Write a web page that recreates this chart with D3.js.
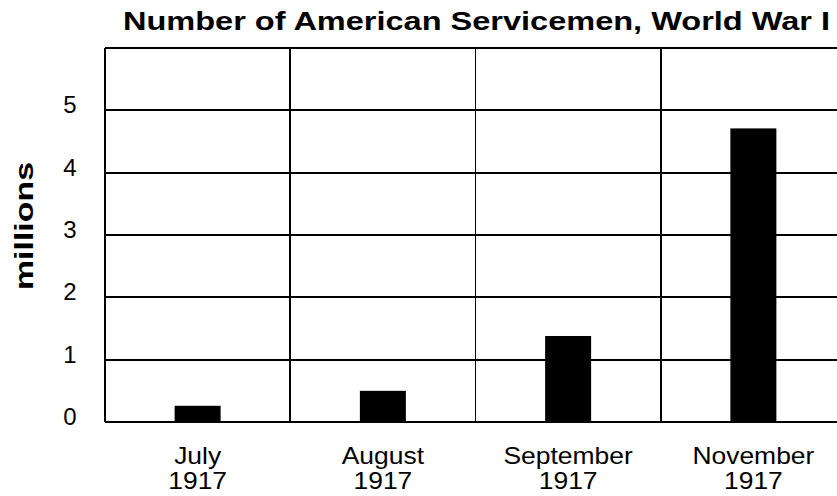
<!DOCTYPE html>
<html lang="en">
<head>
<meta charset="UTF-8">
<title>Number of American Servicemen, World War I</title>
<style>
  body { margin: 0; background: #fff; }
  svg { display: block; font-family: "Liberation Sans", Arial, sans-serif; }
  .grid line { stroke: #000; stroke-width: 1.8; shape-rendering: crispEdges; }
  .bar { fill: #000; }
  .tick-label { font-size: 24px; fill: #000; }
  .cat-label { font-size: 23px; fill: #000; }
</style>
<script src="https://cdnjs.cloudflare.com/ajax/libs/d3/7.8.5/d3.min.js"></script>
</head>
<body>
<div id="chart"></div>
<script>
// data
var months = ['July', 'August', 'September', 'November'];
var years = ['1917', '1917', '1917', '1917'];
var servicemen = [0.26, 0.50, 1.38, 4.71]; // millions
var yTicks = [0, 1, 2, 3, 4, 5];
var yMax = 6;

var W = 837, H = 496;
var plotLeft = 105, plotRight = 846, plotTop = 48, plotBottom = 422;

var svg = d3.select('#chart').append('svg')
  .attr('width', W)
  .attr('height', H);

var x = d3.scaleBand()
  .domain(months)
  .range([plotLeft, plotRight])
  .paddingInner(0)
  .paddingOuter(0);

var y = d3.scaleLinear()
  .domain([0, yMax])
  .range([plotBottom, plotTop]);

// grid: horizontal lines at each whole million, vertical lines at band edges
var grid = svg.append('g').attr('class', 'grid');
grid.selectAll('.h')
  .data(d3.range(0, yMax + 1))
  .enter().append('line')
  .attr('x1', plotLeft).attr('x2', plotRight)
  .attr('y1', function (d) { return y(d); })
  .attr('y2', function (d) { return y(d); });

var edges = months.map(function (m) { return x(m); }).concat([x(months[months.length - 1]) + x.bandwidth()]);
grid.selectAll('.v')
  .data(edges)
  .enter().append('line')
  .attr('x1', function (d) { return d; })
  .attr('x2', function (d) { return d; })
  .attr('y1', plotTop).attr('y2', plotBottom);

// bars
var barW = 46;
svg.selectAll('.bar')
  .data(servicemen)
  .enter().append('rect')
  .attr('class', 'bar')
  .attr('x', function (d, i) { return x(months[i]) + x.bandwidth() / 2 - barW / 2; })
  .attr('y', function (d) { return y(d); })
  .attr('width', barW)
  .attr('height', function (d) { return y(0) - y(d); });

// y tick labels
svg.selectAll('.tick-label')
  .data(yTicks)
  .enter().append('text')
  .attr('class', 'tick-label')
  .attr('x', 70)
  .attr('y', function (d) { return y(d) + 3; })
  .attr('text-anchor', 'middle')
  .text(function (d) { return d; });

// category labels (two lines)
var cats = svg.selectAll('.cat')
  .data(months)
  .enter().append('g')
  .attr('class', 'cat')
  .attr('transform', function (d) { return 'translate(' + (x(d) + x.bandwidth() / 2) + ',0) scale(1.15,1)'; });

cats.append('text')
  .attr('class', 'cat-label')
  .attr('y', 464)
  .attr('text-anchor', 'middle')
  .text(function (d) { return d; });

cats.append('text')
  .attr('class', 'cat-label')
  .attr('y', 489)
  .attr('text-anchor', 'middle')
  .text(function (d, i) { return years[i]; });

// axis title
svg.append('text')
  .attr('transform', 'translate(33,226) rotate(-90)')
  .attr('text-anchor', 'middle')
  .attr('font-size', 25)
  .attr('font-weight', 'bold')
  .attr('textLength', 128)
  .attr('lengthAdjust', 'spacingAndGlyphs')
  .text('millions');

// chart title
svg.append('text')
  .attr('x', 123)
  .attr('y', 30)
  .attr('font-size', 25)
  .attr('font-weight', 'bold')
  .attr('textLength', 707)
  .attr('lengthAdjust', 'spacingAndGlyphs')
  .text('Number of American Servicemen, World War I');
</script>
</body>
</html>
